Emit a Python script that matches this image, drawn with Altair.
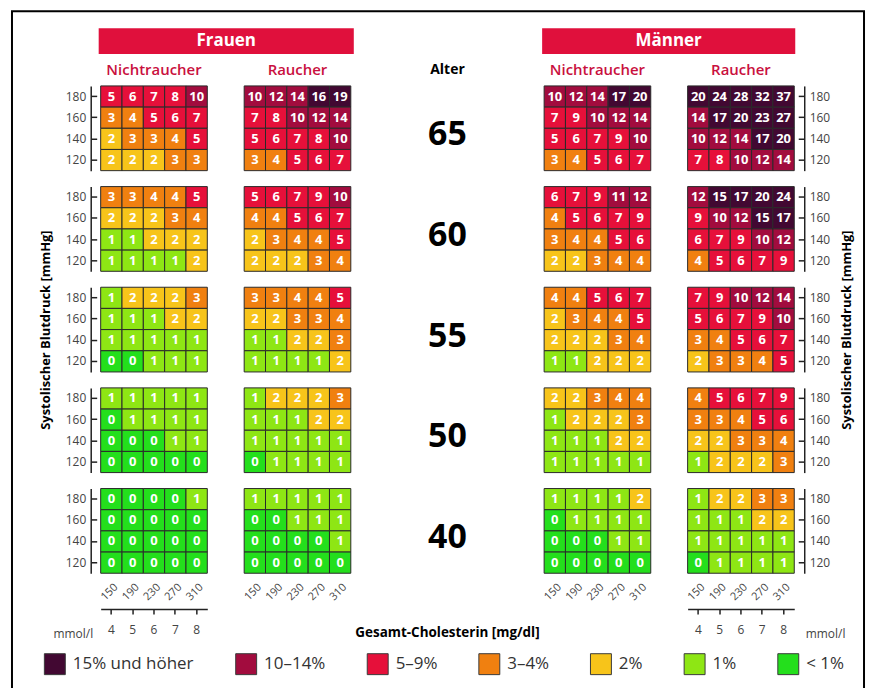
import altair as alt
import pandas as pd

# ---------------- data ----------------
CHOL_MGDL = [150, 190, 230, 270, 310]
CHOL_MMOL = [4, 5, 6, 7, 8]
SBP = [180, 160, 140, 120]
AGES = [65, 60, 55, 50, 40]

# 10-year risk (%), rows = systolic BP 180/160/140/120, columns = cholesterol 150..310 mg/dl
FRAUEN_NICHTRAUCHER = {
    65: [[5, 6, 7, 8, 10], [3, 4, 5, 6, 7], [2, 3, 3, 4, 5], [2, 2, 2, 3, 3]],
    60: [[3, 3, 4, 4, 5], [2, 2, 2, 3, 4], [1, 1, 2, 2, 2], [1, 1, 1, 1, 2]],
    55: [[1, 2, 2, 2, 3], [1, 1, 1, 2, 2], [1, 1, 1, 1, 1], [0, 0, 1, 1, 1]],
    50: [[1, 1, 1, 1, 1], [0, 1, 1, 1, 1], [0, 0, 0, 1, 1], [0, 0, 0, 0, 0]],
    40: [[0, 0, 0, 0, 1], [0, 0, 0, 0, 0], [0, 0, 0, 0, 0], [0, 0, 0, 0, 0]],
}
FRAUEN_RAUCHER = {
    65: [[10, 12, 14, 16, 19], [7, 8, 10, 12, 14], [5, 6, 7, 8, 10], [3, 4, 5, 6, 7]],
    60: [[5, 6, 7, 9, 10], [4, 4, 5, 6, 7], [2, 3, 4, 4, 5], [2, 2, 2, 3, 4]],
    55: [[3, 3, 4, 4, 5], [2, 2, 3, 3, 4], [1, 1, 2, 2, 3], [1, 1, 1, 1, 2]],
    50: [[1, 2, 2, 2, 3], [1, 1, 1, 2, 2], [1, 1, 1, 1, 1], [0, 1, 1, 1, 1]],
    40: [[1, 1, 1, 1, 1], [0, 0, 1, 1, 1], [0, 0, 0, 0, 1], [0, 0, 0, 0, 0]],
}
MAENNER_NICHTRAUCHER = {
    65: [[10, 12, 14, 17, 20], [7, 9, 10, 12, 14], [5, 6, 7, 9, 10], [3, 4, 5, 6, 7]],
    60: [[6, 7, 9, 11, 12], [4, 5, 6, 7, 9], [3, 4, 4, 5, 6], [2, 2, 3, 4, 4]],
    55: [[4, 4, 5, 6, 7], [2, 3, 4, 4, 5], [2, 2, 2, 3, 4], [1, 1, 2, 2, 2]],
    50: [[2, 2, 3, 4, 4], [1, 2, 2, 2, 3], [1, 1, 1, 2, 2], [1, 1, 1, 1, 1]],
    40: [[1, 1, 1, 1, 2], [0, 1, 1, 1, 1], [0, 0, 0, 1, 1], [0, 0, 0, 0, 0]],
}
MAENNER_RAUCHER = {
    65: [[20, 24, 28, 32, 37], [14, 17, 20, 23, 27], [10, 12, 14, 17, 20], [7, 8, 10, 12, 14]],
    60: [[12, 15, 17, 20, 24], [9, 10, 12, 15, 17], [6, 7, 9, 10, 12], [4, 5, 6, 7, 9]],
    55: [[7, 9, 10, 12, 14], [5, 6, 7, 9, 10], [3, 4, 5, 6, 7], [2, 3, 3, 4, 5]],
    50: [[4, 5, 6, 7, 9], [3, 3, 4, 5, 6], [2, 2, 3, 3, 4], [1, 2, 2, 2, 3]],
    40: [[1, 2, 2, 3, 3], [1, 1, 1, 2, 2], [1, 1, 1, 1, 1], [0, 1, 1, 1, 1]],
}

RISK_LABELS = ["15% und höher", "10–14%", "5–9%", "3–4%", "2%", "1%", "< 1%"]
RISK_MIN = [15, 10, 5, 3, 2, 1, 0]
RISK_COLORS = ["#420832", "#a20c3e", "#e6103a", "#f08010", "#f7c41a", "#8ee614", "#24df1c"]

HEADERS = ["Frauen", "Männer"]
SUBHEADERS = ["Nichtraucher", "Raucher"]
AGE_TITLE = "Alter"
Y_TITLE = "Systolischer Blutdruck [mmHg]"
X_TITLE = "Gesamt-Cholesterin [mg/dl]"
MMOL_TITLE = "mmol/l"

# ---------------- style / layout ----------------
FONT = "Open Sans"
PW, PH, AGE_W = 107, 85, 120
RED = "#e0103c"
SUB_RED = "#c9103e"


def category(v):
    for lab, lo in zip(RISK_LABELS, RISK_MIN):
        if v >= lo:
            return lab


def panel_frame(grid):
    rows = []
    for sbp, row in zip(SBP, grid):
        for chol, mmol, v in zip(CHOL_MGDL, CHOL_MMOL, row):
            rows.append(dict(sbp=sbp, chol=chol, mmol=mmol, risk=v, cat=category(v)))
    return pd.DataFrame(rows)


BAND = alt.Scale(paddingInner=0, paddingOuter=0)
LEGEND = alt.Legend(
    orient="none", legendX=-57, legendY=569, direction="horizontal", columns=7,
    title=None, symbolType="square", symbolSize=441, symbolStrokeColor="#3a3a3a",
    symbolStrokeWidth=1, symbolOpacity=1, labelFontSize=17, labelFont=FONT,
    labelColor="#333", labelOffset=7, columnPadding=39, padding=0,
)
COLOR = alt.Color("cat:N", scale=alt.Scale(domain=RISK_LABELS, range=RISK_COLORS), legend=LEGEND)


def label_layer(text, x, y, size, color, weight):
    return alt.Chart(pd.DataFrame({"t": [text]})).mark_text(
        fontSize=size, fontWeight=weight, color=color, font=FONT, baseline="middle").encode(
        x=alt.value(x), y=alt.value(y), text="t:N")


def grid_panel(grid, title=None, side=None, bottom=False, mmol_side=None, ytitle=False, extra=()):
    df = panel_frame(grid)
    if bottom:
        xaxis = alt.Axis(orient="bottom", domain=False, ticks=False, tickSize=0, labelAngle=315,
                         labelAlign="right", labelBaseline="middle", labelPadding=12,
                         labelOffset=5, labelFontSize=11, labelColor="#444", title=None)
    else:
        xaxis = None
    yaxis = None
    if side:
        kw = dict(orient=side, offset=10, domain=True, domainColor="#222", domainWidth=1.5,
                  ticks=False, tickSize=0, labelPadding=5, labelFontSize=12, labelColor="#444")
        if ytitle:
            kw.update(title=Y_TITLE, titleAngle=270, titleX=-45 if side == "left" else 42,
                      titleY=PH / 2, titleAlign="center", titleBaseline="middle",
                      titleFontSize=13, titleFontWeight="bold", titleColor="black")
        else:
            kw.update(title=None)
        yaxis = alt.Axis(**kw)
    rect = alt.Chart(df).mark_rect(stroke="#2a2a2a", strokeWidth=1).encode(
        x=alt.X("chol:O", sort=CHOL_MGDL, scale=BAND, axis=xaxis),
        y=alt.Y("sbp:O", sort=SBP, scale=BAND, axis=yaxis),
        color=COLOR,
    )
    text = alt.Chart(df).mark_text(color="white", fontSize=13, fontWeight="bold").encode(
        x=alt.X("chol:O", sort=CHOL_MGDL, scale=BAND, axis=None),
        y=alt.Y("sbp:O", sort=SBP, scale=BAND, axis=None),
        text="risk:Q",
    )
    layers = list(extra) + [rect, text]
    if title:
        layers.append(label_layer(title, PW / 2, -16, 15, SUB_RED, 600))
    if side:
        tick_axis = alt.Axis(orient=side, offset=4, domain=False, ticks=True, tickSize=6,
                             tickColor="#222", tickWidth=1.5, labels=False, title=None)
        layers.append(alt.Chart(df).mark_rect(opacity=0).encode(
            x=alt.X("chol:O", sort=CHOL_MGDL, scale=BAND, axis=None),
            y=alt.Y("sbp:O", sort=SBP, scale=BAND, axis=tick_axis),
        ))
    if mmol_side:
        mm_axis = alt.Axis(orient="bottom", offset=36, domain=True, domainColor="#222",
                           domainWidth=1.5, ticks=True, tickSize=5, tickColor="#222",
                           tickWidth=1.5, labelPadding=10, labelAngle=0, labelFontSize=12,
                           labelColor="#444", title=MMOL_TITLE, titleFontSize=12,
                           titleFontWeight="normal", titleColor="#444", titleAngle=0,
                           titleX=-8 if mmol_side == "left" else 118, titleY=24,
                           titleAlign="right" if mmol_side == "left" else "left",
                           titleBaseline="middle")
        layers.append(alt.Chart(df).mark_rect(opacity=0).encode(
            x=alt.X("mmol:O", sort=CHOL_MMOL, scale=BAND, axis=mm_axis),
            y=alt.Y("sbp:O", sort=SBP, scale=BAND, axis=None),
        ))
    return alt.layer(*layers).resolve_scale(x="independent", y="independent").properties(
        width=PW, height=PH)


def banner(label, x0, x1, xc):
    d = pd.DataFrame({"t": [label]})
    r = alt.Chart(d).mark_rect(color=RED).encode(
        x=alt.value(x0), x2=alt.value(x1), y=alt.value(-58), y2=alt.value(-32))
    return [r, label_layer(label, xc, -45, 17, "white", "bold")]


frame = alt.Chart(pd.DataFrame({"t": [0]})).mark_rect(
    fillOpacity=0, stroke="black", strokeWidth=2).encode(
    x=alt.value(-89), x2=alt.value(766), y=alt.value(-75), y2=alt.value(612))


def age_panel(age, first=False, last=False):
    base = alt.Chart(pd.DataFrame({"age": [age]})).mark_text(
        fontSize=34, fontWeight="bold", color="black", dy=7, font=FONT).encode(text="age:N")
    layers = [base]
    if first:
        layers.append(label_layer(AGE_TITLE, AGE_W / 2, -16, 14, "black", "bold"))
    if last:
        layers.append(label_layer(X_TITLE, AGE_W / 2, 145, 13.5, "black", "bold"))
    return alt.layer(*layers).properties(width=AGE_W, height=PH)


panels = []
for i, age in enumerate(AGES):
    first = i == 0
    last = i == len(AGES) - 1
    mid = i == 2
    panels.append(grid_panel(FRAUEN_NICHTRAUCHER[age], title=SUBHEADERS[0] if first else None,
                             side="left", bottom=last, mmol_side="left" if last else None,
                             ytitle=mid,
                             extra=([frame] + banner(HEADERS[0], -2, 254, 126)) if first else ()))
    panels.append(grid_panel(FRAUEN_RAUCHER[age], title=SUBHEADERS[1] if first else None,
                             bottom=last))
    panels.append(age_panel(age, first=first, last=last))
    panels.append(grid_panel(MAENNER_NICHTRAUCHER[age], title=SUBHEADERS[0] if first else None,
                             bottom=last,
                             extra=banner(HEADERS[1], -2, 252, 125) if first else ()))
    panels.append(grid_panel(MAENNER_RAUCHER[age], title=SUBHEADERS[1] if first else None,
                             side="right", bottom=last, mmol_side="right" if last else None,
                             ytitle=mid))

chart = alt.concat(
    *panels, columns=5, spacing={"row": 16, "column": 37}, bounds="flush", align="each",
    padding={"left": 2, "top": 0, "right": 2, "bottom": 2},
).configure_view(stroke="transparent").configure_axis(
    labelFont=FONT, titleFont=FONT
).configure_text(font=FONT)

chart.save("out.html", embed_options={"renderer": "svg", "actions": False})
